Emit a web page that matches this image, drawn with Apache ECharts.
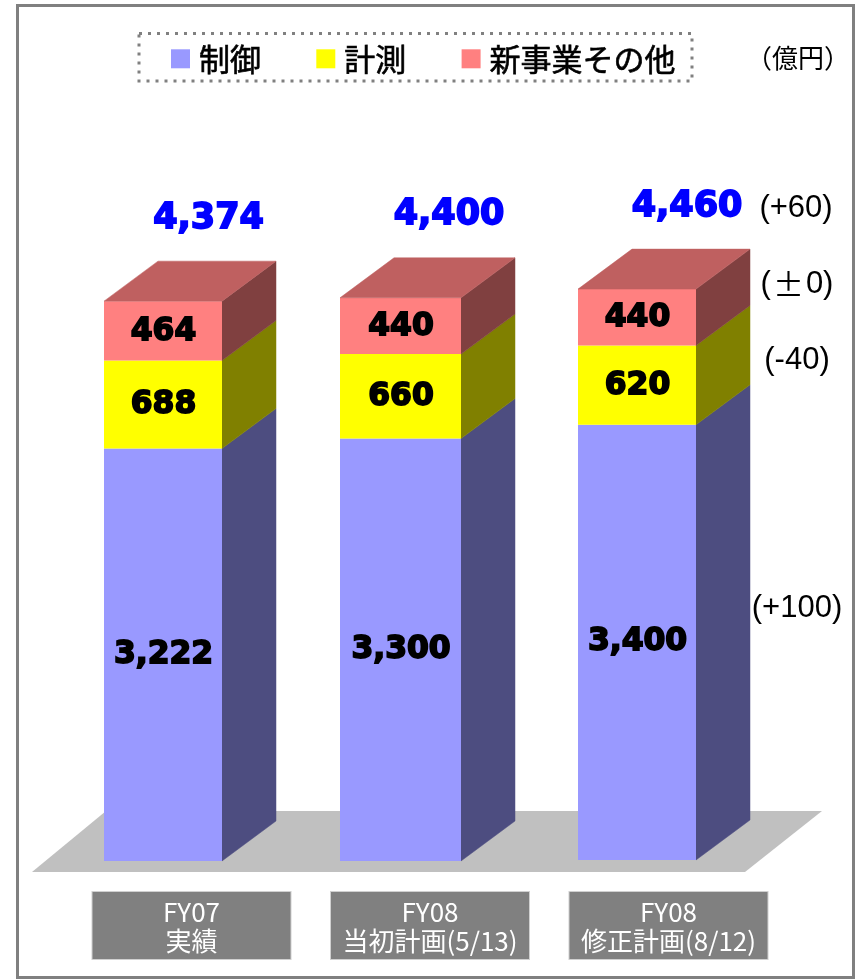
<!DOCTYPE html>
<html><head><meta charset="utf-8">
<style>html,body{margin:0;padding:0;background:#fff}#c{width:857px;height:979px}</style>
<script src="https://cdn.jsdelivr.net/npm/echarts@6/dist/echarts.min.js"></script>
</head><body><div id="c"></div>
<script>
const categories = ['FY07\n実績', 'FY08\n当初計画(5/13)', 'FY08\n修正計画(8/12)'];
const seriesNames = ['制御', '計測', '新事業その他'];
const control = [3222, 3300, 3400];
const measure = [688, 660, 620];
const other = [464, 440, 440];
const totals = [4374, 4400, 4460];
const deltaLabels = ['(+60)', '{a|(}{b|±}{a|0)}', '(-40)', '(+100)'];
const unitLabel = '（億円）';

const segments = [control, measure, other];
const frontColors = ['#9999ff', '#ffff00', '#ff8080'];
const sideColors = ['#4d4d80', '#808000', '#804040'];
const topColor = '#bf6060';
const depthX = 54, depthY = 40;
const frontShift = [-28.5, -29.5, -31.5];
const frontWidth = [118, 121, 118];
const baseShift = [0, 0, -1];
const totalShift = [45.5, 48.5, 50];
const NUM_FONT = '"DejaVu Sans", sans-serif';
const CJK = '"Noto Sans CJK JP", sans-serif';
const LAT = '"Liberation Sans", Arial, sans-serif';

function fmt(v) { return v.toLocaleString('en-US'); }

function segmentSeries(si) {
  const data = categories.map((c, i) => {
    let base = 0;
    for (let k = 0; k < si; k++) base += segments[k][i];
    return [i, base, base + segments[si][i], segments[si][i]];
  });
  return {
    type: 'custom', name: seriesNames[si], clip: false, z: 3,
    itemStyle: { color: frontColors[si] },
    encode: { x: 0, y: 2 }, data,
    renderItem(params, api) {
      const i = api.value(0);
      const pb = api.coord([i, api.value(1)]);
      const pt = api.coord([i, api.value(2)]);
      const w = frontWidth[i];
      const x0 = pb[0] + frontShift[i] - w / 2;
      const x1 = x0 + w;
      const yb = pb[1] + baseShift[i], yt = pt[1] + baseShift[i];
      const kids = [
        { type: 'polygon', shape: { points: [[x1, yb], [x1, yt], [x1 + depthX, yt - depthY], [x1 + depthX, yb - depthY]] },
          style: { fill: sideColors[si], stroke: sideColors[si], lineWidth: 0.5 } },
        { type: 'rect', shape: { x: x0, y: yt, width: w, height: yb - yt }, style: { fill: frontColors[si] } }
      ];
      if (si === segments.length - 1) {
        kids.push({ type: 'polygon', shape: { points: [[x0, yt], [x1, yt], [x1 + depthX, yt - depthY], [x0 + depthX, yt - depthY]] },
          style: { fill: topColor, stroke: topColor, lineWidth: 0.5 } });
      }
      kids.push({ type: 'text', x: x0 + w / 2 + 0.5, y: (yb + yt) / 2 + 0.5 - (si === 0 ? 1 : 0), scaleX: 0.98, z2: 10,
        style: { text: fmt(api.value(3)), font: 'bold 32px ' + NUM_FONT, fill: '#000', stroke: '#000', lineWidth: 1.8,
          align: 'center', verticalAlign: 'middle' } });
      return { type: 'group', children: kids };
    }
  };
}

const totalSeries = {
  type: 'custom', name: '合計', clip: false, z: 4, encode: { x: 0, y: 1 },
  data: totals.map((t, i) => [i, t]),
  renderItem(params, api) {
    const i = api.value(0), p = api.coord([i, api.value(1)]);
    return { type: 'text', x: p[0] + frontShift[i] + totalShift[i], y: p[1] + baseShift[i] - 82.5,
      style: { text: fmt(api.value(1)), font: 'bold 35px ' + NUM_FONT, fill: '#0000ff', stroke: '#0000ff', lineWidth: 1.8,
        align: 'center', verticalAlign: 'middle' } };
  }
};

const deltaPos = [[796, 208], [797, 284], [797, 360], [797, 608]];
const T = (text, pos, font, fill, rich) => ({ type: 'text', x: pos[0], y: pos[1], z: 5, silent: true,
  style: { text, font, fill, align: 'center', verticalAlign: 'middle', rich } });
const deltaRich = {
  a: { font: '31px ' + LAT, fill: '#000' },
  b: { font: '31px ' + CJK, fill: '#000', padding: [0, 2, 0, 2] }
};

const option = {
  animation: false,
  backgroundColor: '#fff',
  grid: { left: 72.25, width: 715.5, top: 221, height: 640, containLabel: false },
  xAxis: {
    type: 'category', data: categories,
    axisLine: { show: false }, axisTick: { show: false },
    axisLabel: {
      interval: 0, margin: 31, color: '#fff', fontFamily: CJK, fontSize: 26, lineHeight: 29,
      backgroundColor: '#808080', borderColor: '#d0d0d0', borderWidth: 1,
      width: 198, align: 'center', verticalAlign: 'top', padding: [6, 0, 3, 0]
    }
  },
  yAxis: { type: 'value', min: 0, max: 5000, show: false, splitLine: { show: false } },
  legend: {
    data: seriesNames, left: 171, top: 43, padding: 0, icon: 'rect',
    itemWidth: 19, itemHeight: 19, itemGap: 55,
    textStyle: { fontFamily: CJK, fontSize: 31, color: '#000', padding: [0, 0, 0, 4], textBorderColor: '#000', textBorderWidth: 0.6 }
  },
  graphic: [
    { type: 'rect', z: 0, silent: true, shape: { x: 17.5, y: 5.5, width: 836, height: 972 },
      style: { fill: 'none', stroke: '#808080', lineWidth: 3 } },
    { type: 'polygon', z: 0, silent: true, shape: { points: [[32, 872], [106, 811], [822, 811], [745, 872]] },
      style: { fill: '#c0c0c0' } },
    { type: 'rect', z: 0, silent: true, shape: { x: 139, y: 33.5, width: 553, height: 47.5 },
      style: { fill: 'none', stroke: '#808080', lineWidth: 3, lineDash: [3, 6] } },
    T(unitLabel, [798, 58], '26px ' + CJK, '#000'),
    ...deltaLabels.map((d, i) => T(d, deltaPos[i], '31px ' + LAT, '#000', deltaRich))
  ],
  series: [segmentSeries(0), segmentSeries(1), segmentSeries(2), totalSeries]
};
echarts.init(document.getElementById('c'), null, { renderer: 'canvas' }).setOption(option);
</script></body></html>
